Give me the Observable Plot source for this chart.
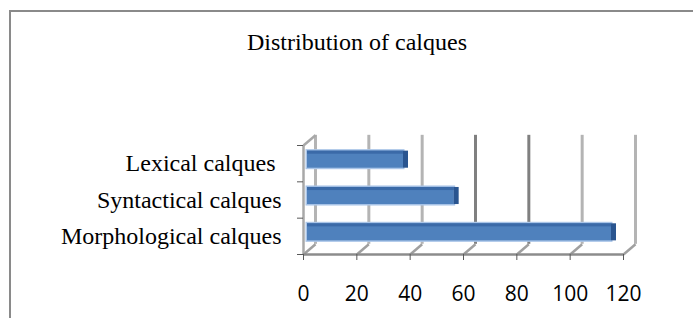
<!DOCTYPE html>
<html><head><meta charset="utf-8">
<script src="https://cdn.jsdelivr.net/npm/d3@7"></script>
<script src="https://cdn.jsdelivr.net/npm/@observablehq/plot@0.6"></script>
<style>
html,body{margin:0;padding:0;background:#fff;width:693px;height:318px;overflow:hidden;}
#frame{position:absolute;left:9px;top:10px;width:696px;height:400px;border:2px solid #8a8a8a;box-sizing:border-box;}
#title{position:absolute;left:9px;width:696px;top:30px;text-align:center;font-family:"Liberation Serif",serif;font-size:24px;line-height:24px;color:#000;}
#chart{position:absolute;left:0;top:0;}
#chart text{white-space:pre;}
</style></head><body>
<div id="frame"></div>
<div id="title">Distribution of calques</div>
<div id="chart"></div>
<script>
const categories = ["Morphological calques", "Syntactical calques", "Lexical calques "];
const values = [114, 55, 36];
const xTicks = [0, 20, 40, 60, 80, 100, 120];
const xDomain = [0, 120];

const depthX = 4.5, depthY = 0.28; // 3D box depth in data units
const barLo = 0.265, barHi = 0.735;
const darkGrid = new Set([60, 80]);
const rows = categories.map((c, i) => ({category: c, value: values[i], row: i}));
const bounds = d3.range(categories.length + 1);
const n = categories.length;

const barOpts = {x1: 0, x2: "value", y1: d => d.row + barLo, y2: d => d.row + barHi, dx: 4, dy: -4};

const chart = Plot.plot({
  width: 693, height: 318,
  marginLeft: 303, marginRight: 70, marginTop: 145, marginBottom: 64,
  style: {background: "transparent", overflow: "visible", fontFamily: "'Open Sans'", fontSize: "21px", color: "#000"},
  x: {domain: xDomain, label: null},
  y: {domain: [0, n], label: null},
  marks: [
    // back wall gridlines
    Plot.ruleX(xTicks, {x: d => d + depthX, y1: depthY, y2: n + depthY,
      stroke: d => darkGrid.has(d) ? "#808080" : "#b4b4b4", strokeWidth: 3}),
    // floor diagonals
    Plot.link(xTicks, {x1: d => d, y1: 0, x2: d => d + depthX, y2: depthY, stroke: "#a0a0a0", strokeWidth: 2.5}),
    // left wall front edge and top diagonal
    Plot.ruleX([0], {y1: 0, y2: n, stroke: "#a8a8a8", strokeWidth: 2.5}),
    Plot.link([0], {x1: 0, y1: n, x2: depthX, y2: n + depthY, stroke: "#a8a8a8", strokeWidth: 2.5}),
    // front floor axis line
    Plot.ruleY([0], {x1: xDomain[0], x2: xDomain[1], stroke: "#8c8c8c", strokeWidth: 2.5}),
    // category boundary ticks
    Plot.axisY({ticks: bounds, tickSize: 6, tickFormat: () => "", stroke: "#595959", label: null}),
    // x axis
    Plot.axisX({ticks: xTicks, tickSize: 6, tickPadding: 26, stroke: "#595959", fill: "#000", label: null}),
    // bars (3D look)
    Plot.rect(rows, {...barOpts, fill: "none", stroke: "#aac5e8", strokeWidth: 3}),
    Plot.rect(rows, {...barOpts, fill: "#4f81bd"}),
    Plot.rect(rows, {...barOpts, insetBottom: 14, fill: "#3b6aa8"}),
    Plot.rect(rows, {x1: "value", x2: "value", y1: d => d.row + barLo, y2: d => d.row + barHi, dx: 4, dy: -4, insetRight: -5, fill: "#2a5590"}),
    // category labels
    Plot.text(rows, {frameAnchor: "left", y: d => d.row + 0.5, text: "category", textAnchor: "end", dx: -22,
      fontFamily: "Liberation Serif", fontSize: 24, lineAnchor: "middle", fill: "#000"})
  ]
});
document.getElementById("chart").appendChild(chart);
</script>
</body></html>
